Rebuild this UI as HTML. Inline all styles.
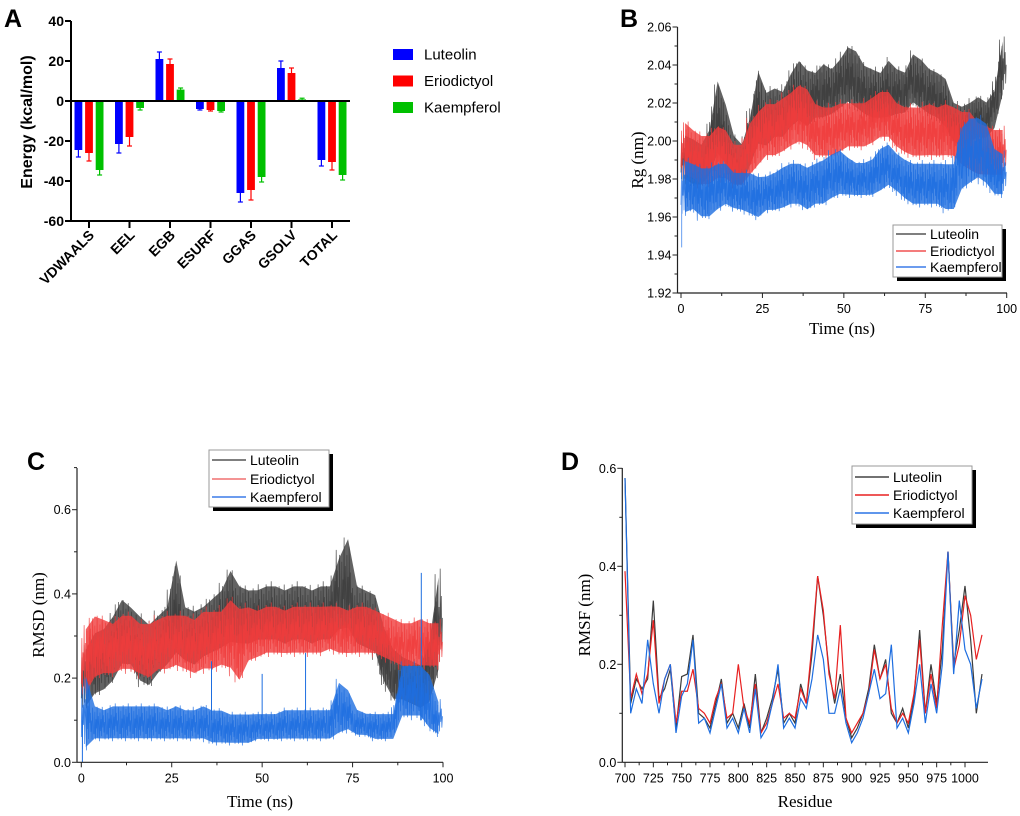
<!DOCTYPE html>
<html><head><meta charset="utf-8"><style>
html,body{margin:0;padding:0;background:#fff}
svg{display:block;font-family:"Liberation Sans",Arial,sans-serif}
.serif{font-family:"Liberation Serif","Times New Roman",serif}
</style></head><body>
<svg id="fig" width="1020" height="816" viewBox="0 0 1020 816" xmlns="http://www.w3.org/2000/svg">
<g id="pA"></g>
<g id="pB"></g>
<g id="pC"></g>
<g id="pD"></g>
</svg>
<script>
// ---------- Panel A data ----------
const aCategories = ["VDWAALS","EEL","EGB","ESURF","GGAS","GSOLV","TOTAL"];
const aSeriesNames = ["Luteolin","Eriodictyol","Kaempferol"];
const aLuteolin = [-24.5,-21.5,21,-4,-46,16.5,-29.5];
const aEriodictyol = [-26,-18,18.5,-4.5,-44.5,14,-30.5];
const aKaempferol = [-34.5,-3.5,5.7,-5,-38,0.8,-37];
const aErrLuteolin = [3.5,4.5,3.5,0.5,4.5,3.5,3];
const aErrEriodictyol = [4,4.5,2.5,0.5,5,2.5,4];
const aErrKaempferol = [2.5,1,0.8,0.5,2.5,0.6,2.5];
const aTicks = [40,20,0,-20,-40,-60];

// ---------- Panel B data (Rg envelopes, 40 bins of 2.5 ns) ----------
const bTicksY = [1.92,1.94,1.96,1.98,2.00,2.02,2.04,2.06];
const bTicksX = [0,25,50,75,100];
const bLutLo = [1.978,1.975,1.975,1.98,1.99,1.985,1.975,1.975,1.985,1.995,1.995,2.0,2.0,2.005,2.008,2.005,2.01,2.01,2.012,2.015,2.018,2.015,2.012,2.01,2.01,2.01,2.012,2.013,2.018,2.015,2.012,2.01,2.005,1.998,1.995,1.998,2.0,2.0,2.005,2.022];
const bLutHi = [2.005,2.003,2.0,2.008,2.035,2.022,2.005,2.0,2.015,2.04,2.028,2.03,2.028,2.038,2.045,2.04,2.038,2.043,2.04,2.045,2.052,2.05,2.042,2.04,2.038,2.045,2.04,2.038,2.048,2.045,2.04,2.038,2.035,2.022,2.02,2.022,2.025,2.022,2.028,2.055];
const bEriLo = [1.98,1.978,1.975,1.975,1.978,1.978,1.975,1.975,1.98,1.985,1.99,1.99,1.992,1.995,1.997,1.995,1.99,1.99,1.99,1.992,1.995,1.995,1.995,1.997,2.0,2.0,1.995,1.992,1.99,1.99,1.99,1.99,1.99,1.99,1.985,1.982,1.98,1.98,1.98,1.98];
const bEriHi = [2.012,2.008,2.005,2.005,2.01,2.008,2.0,2.0,2.012,2.018,2.022,2.022,2.025,2.028,2.032,2.03,2.022,2.02,2.02,2.022,2.022,2.022,2.022,2.025,2.028,2.028,2.022,2.02,2.02,2.02,2.022,2.02,2.022,2.02,2.018,2.018,2.012,2.01,2.008,2.008];
const bKaeLo = [1.96,1.962,1.958,1.958,1.962,1.965,1.963,1.962,1.96,1.958,1.962,1.962,1.963,1.965,1.965,1.962,1.965,1.965,1.968,1.97,1.97,1.97,1.97,1.97,1.972,1.975,1.972,1.968,1.965,1.965,1.965,1.965,1.962,1.962,1.972,1.975,1.978,1.975,1.97,1.97];
const bKaeHi = [1.992,1.99,1.988,1.988,1.99,1.99,1.985,1.985,1.985,1.983,1.983,1.985,1.988,1.99,1.99,1.988,1.99,1.992,1.995,1.997,1.993,1.99,1.99,1.992,1.998,2.0,1.995,1.992,1.99,1.99,1.99,1.99,1.99,1.99,2.01,2.015,2.015,2.012,1.998,1.995];
const bKaeSpikeT = [0.2];
const bKaeSpikeV = [1.944];

// ---------- Panel C data (RMSD envelopes) ----------
const cTicksY = [0.0,0.2,0.4,0.6];
const cTicksX = [0,25,50,75,100];
const cLutLo = [0.12,0.15,0.16,0.18,0.22,0.22,0.18,0.17,0.2,0.22,0.24,0.23,0.22,0.24,0.25,0.26,0.27,0.27,0.27,0.28,0.28,0.28,0.27,0.28,0.28,0.27,0.28,0.28,0.3,0.3,0.27,0.26,0.25,0.18,0.14,0.14,0.13,0.12,0.13,0.2];
const cLutHi = [0.28,0.32,0.33,0.36,0.4,0.38,0.36,0.34,0.36,0.38,0.5,0.38,0.37,0.38,0.4,0.42,0.47,0.43,0.42,0.42,0.43,0.43,0.42,0.43,0.43,0.42,0.43,0.43,0.5,0.55,0.43,0.42,0.41,0.33,0.28,0.26,0.25,0.24,0.3,0.46];
const cEriLo = [0.15,0.19,0.2,0.2,0.21,0.21,0.2,0.19,0.21,0.21,0.22,0.21,0.2,0.21,0.21,0.22,0.21,0.18,0.23,0.24,0.25,0.25,0.25,0.25,0.25,0.25,0.25,0.26,0.25,0.25,0.25,0.25,0.25,0.24,0.23,0.22,0.22,0.22,0.22,0.22];
const cEriHi = [0.33,0.36,0.35,0.34,0.36,0.36,0.34,0.34,0.35,0.36,0.36,0.36,0.35,0.37,0.37,0.37,0.4,0.38,0.38,0.37,0.38,0.38,0.37,0.38,0.38,0.38,0.38,0.38,0.38,0.37,0.38,0.38,0.37,0.36,0.35,0.34,0.34,0.35,0.34,0.34];
const cKaeLo = [0.02,0.05,0.05,0.05,0.05,0.05,0.05,0.05,0.05,0.05,0.05,0.05,0.05,0.05,0.04,0.04,0.04,0.04,0.04,0.05,0.05,0.05,0.05,0.05,0.05,0.05,0.05,0.05,0.06,0.07,0.06,0.06,0.05,0.05,0.05,0.1,0.1,0.1,0.07,0.06];
const cKaeHi = [0.22,0.14,0.13,0.14,0.14,0.14,0.14,0.14,0.14,0.13,0.14,0.13,0.13,0.14,0.13,0.13,0.12,0.12,0.12,0.12,0.12,0.12,0.13,0.13,0.13,0.13,0.13,0.13,0.2,0.18,0.13,0.12,0.12,0.12,0.12,0.24,0.24,0.24,0.22,0.15];
const cKaeSpikeT = [0.3,36,50,62,94];
const cKaeSpikeV = [0.0,0.24,0.21,0.26,0.45];

// ---------- Panel D data (RMSF per residue) ----------
const dResidues = [700,705,710,715,720,725,730,735,740,745,750,755,760,765,770,775,780,785,790,795,800,805,810,815,820,825,830,835,840,845,850,855,860,865,870,875,880,885,890,895,900,905,910,915,920,925,930,935,940,945,950,955,960,965,970,975,980,985,990,995,1000,1005,1010,1015];
const dLuteolin = [0.58,0.12,0.17,0.15,0.17,0.33,0.13,0.15,0.19,0.07,0.175,0.18,0.26,0.1,0.09,0.07,0.12,0.17,0.08,0.1,0.07,0.12,0.07,0.18,0.06,0.09,0.13,0.19,0.08,0.1,0.08,0.16,0.12,0.22,0.38,0.3,0.19,0.12,0.18,0.09,0.05,0.07,0.1,0.15,0.24,0.17,0.21,0.1,0.08,0.11,0.07,0.13,0.27,0.1,0.2,0.12,0.23,0.43,0.2,0.27,0.36,0.25,0.1,0.18];
const dEriodictyol = [0.39,0.13,0.18,0.14,0.18,0.29,0.12,0.17,0.2,0.08,0.145,0.145,0.19,0.11,0.1,0.08,0.13,0.16,0.09,0.1,0.2,0.11,0.08,0.16,0.06,0.08,0.12,0.16,0.09,0.1,0.09,0.15,0.12,0.24,0.38,0.31,0.18,0.13,0.28,0.09,0.06,0.08,0.1,0.14,0.23,0.17,0.2,0.11,0.08,0.1,0.08,0.14,0.25,0.1,0.18,0.11,0.28,0.43,0.19,0.24,0.34,0.3,0.21,0.26];
const dKaempferol = [0.58,0.1,0.15,0.12,0.25,0.16,0.1,0.17,0.2,0.06,0.135,0.16,0.25,0.08,0.09,0.06,0.11,0.16,0.07,0.09,0.06,0.11,0.06,0.15,0.05,0.07,0.12,0.2,0.07,0.09,0.07,0.13,0.11,0.17,0.26,0.21,0.1,0.1,0.15,0.08,0.04,0.06,0.09,0.14,0.19,0.13,0.14,0.24,0.07,0.09,0.06,0.12,0.2,0.08,0.16,0.1,0.2,0.43,0.18,0.33,0.23,0.2,0.11,0.17];
const dTicksY = [0.0,0.2,0.4,0.6];
const dTicksX = [700,725,750,775,800,825,850,875,900,925,950,975,1000];

const NS = "http://www.w3.org/2000/svg";
function mk(parent, tag, attrs, text){
  const e = document.createElementNS(NS, tag);
  for (const k in attrs) e.setAttribute(k, attrs[k]);
  if (text !== undefined) e.textContent = text;
  parent.appendChild(e);
  return e;
}

// ================= Panel A =================
(function(){
  const g = document.getElementById('pA');
  const ax = 71, x1 = 350;
  const ya = v => 101 - v * 2.0;
  const xc = i => 89 + i * 40.5;
  const cols = ["#0000ff","#ff0000","#00c000"];
  const vals = [aLuteolin, aEriodictyol, aKaempferol];
  const errs = [aErrLuteolin, aErrEriodictyol, aErrKaempferol];
  const lab = mk(g,'text',{x:4,y:27,'font-size':25,'font-weight':'bold'},'A');
   
  const yt = mk(g,'text',{x:0,y:0,'font-size':16,'font-weight':'bold','text-anchor':'middle',transform:'translate(32,122) rotate(-90)'},'Energy (kcal/mol)');
   
  for (const t of aTicks){
    mk(g,'line',{x1:ax-6,x2:ax,y1:ya(t),y2:ya(t),stroke:'#000','stroke-width':2});
    const tl = mk(g,'text',{x:ax-7,y:ya(t)+5,'font-size':14,'font-weight':'bold','text-anchor':'end'},String(t));
     
  }
  aCategories.forEach((c,i)=>{
    vals.forEach((s,j)=>{
      const v = s[i], x = xc(i) + (j-1)*10.6;
      const b = mk(g,'rect',{x:x-3.9,y:Math.min(ya(v),ya(0)),width:7.8,height:Math.abs(ya(v)-ya(0)),fill:cols[j]});
       
      const e = v + (v<0?-1:1)*errs[j][i];
      mk(g,'line',{x1:x,x2:x,y1:ya(v),y2:ya(e),stroke:cols[j],'stroke-width':1.2});
      mk(g,'line',{x1:x-2.5,x2:x+2.5,y1:ya(e),y2:ya(e),stroke:cols[j],'stroke-width':1.2});
    });
    mk(g,'line',{x1:xc(i),x2:xc(i),y1:221,y2:228,stroke:'#000','stroke-width':2});
    const xl = mk(g,'text',{x:0,y:0,'font-size':14,'font-weight':'bold','text-anchor':'end',transform:`translate(${xc(i)+6},${236}) rotate(-45)`},c);
     
  });
  mk(g,'line',{x1:ax,x2:ax,y1:21,y2:222,stroke:'#000','stroke-width':2});
  mk(g,'line',{x1:ax-1,x2:x1,y1:221,y2:221,stroke:'#000','stroke-width':2});
  mk(g,'line',{x1:ax,x2:x1,y1:ya(0),y2:ya(0),stroke:'#000','stroke-width':2});
  aSeriesNames.forEach((n,j)=>{
    const y = 54 + j*26.5;
    const r = mk(g,'rect',{x:393,y:y-5,width:20,height:11,fill:cols[j]});
     
    const t = mk(g,'text',{x:424,y:y+5.5,'font-size':15},n);
     
  });
})();

// ========== generic MD axes & band helpers ==========
const pattern = [0.2,0.8,0.05,0.6,0.35,0.95,0.1,0.7,0.45,0.0,0.85,0.3,0.65,0.15,1.0,0.4,0.75,0.25,0.55,0.05,0.9,0.5,0.2];
function band(g, lo, hi, tmax, xs, ys, color, name, sub){
  const n = lo.length, w = tmax/n;
  let top = [], bot = [];
  for (let i=0;i<n;i++){ const t=(i+0.5)*w; top.push(xs(t)+','+ys(hi[i]-(hi[i]-lo[i])*0.08)); bot.unshift(xs(t)+','+ys(lo[i]+(hi[i]-lo[i])*0.08)); }
  const poly = mk(g,'polygon',{points:top.concat(bot).join(' '),fill:color,'fill-opacity':0.8});
   
  let pts = [], k = 0;
  for (let i=0;i<n;i++){
    for (let s=0;s<sub;s++){
      const f = s/sub, t = (i+f)*w;
      const j2 = Math.min(n-1, i+1);
      const l = lo[i]+(lo[j2]-lo[i])*f*0.5, h = hi[i]+(hi[j2]-hi[i])*f*0.5;
      const p = pattern[k++ % pattern.length];
      pts.push(xs(t).toFixed(2)+','+ys(l+p*(h-l)).toFixed(2));
    }
  }
  const pl = mk(g,'polyline',{points:pts.join(' '),fill:'none',stroke:color,'stroke-width':0.7,'stroke-opacity':0.9});
   
}
function axes(g, o){
  mk(g,'line',{x1:o.x0,x2:o.x0,y1:o.yTop,y2:o.yBot,stroke:'#222','stroke-width':1.2});
  mk(g,'line',{x1:o.x0,x2:o.xEnd,y1:o.yBot,y2:o.yBot,stroke:'#222','stroke-width':1.2});
  o.ticksY.forEach((t,i)=>{
    const y=o.ys(t);
    mk(g,'line',{x1:o.x0-5,x2:o.x0,y1:y,y2:y,stroke:'#222','stroke-width':1});
    if (i<o.ticksY.length-1){ const ym=o.ys(t+(o.ticksY[1]-o.ticksY[0])/2); mk(g,'line',{x1:o.x0-3,x2:o.x0,y1:ym,y2:ym,stroke:'#222','stroke-width':1}); }
    const tl=mk(g,'text',{x:o.x0-6,y:y+4.5,'font-size':12.5,'text-anchor':'end'},t.toFixed(o.yDec));
     
  });
  if (o.yMinorTop!==undefined){ const ym=o.ys(o.yMinorTop); mk(g,'line',{x1:o.x0-3,x2:o.x0,y1:ym,y2:ym,stroke:'#222'}); }
  o.ticksX.forEach((t,i)=>{
    const x=o.xs(t);
    mk(g,'line',{x1:x,x2:x,y1:o.yBot,y2:o.yBot+5,stroke:'#222','stroke-width':1});
    if (i<o.ticksX.length-1){ const xm=o.xs(t+(o.ticksX[1]-o.ticksX[0])/2); mk(g,'line',{x1:xm,x2:xm,y1:o.yBot,y2:o.yBot+3,stroke:'#222'}); }
    const tl=mk(g,'text',{x:x,y:o.yBot+20,'font-size':12.5,'text-anchor':'middle'},String(t));
     
  });
  const xt=mk(g,'text',{x:o.xtX,y:o.xtY,'font-size':17,'text-anchor':'middle',class:'serif'},o.xTitle);
   
  const yt=mk(g,'text',{x:0,y:0,'font-size':17,'text-anchor':'middle',class:'serif',transform:`translate(${o.ytX},${o.ytY}) rotate(-90)`},o.yTitle);
   
  const pl=mk(g,'text',{x:o.lblX,y:o.lblY,'font-size':25,'font-weight':'bold'},o.label);
   
}
function legend(g, x, y, w, h, rows, cols, rowY, lw){
  mk(g,'rect',{x:x+4,y:y+4,width:w,height:h,fill:'#000'});
  const box=mk(g,'rect',{x:x,y:y,width:w,height:h,fill:'#fff',stroke:'#999','stroke-width':1});
   
  rows.forEach((n,i)=>{
    const yy=rowY[i];
    mk(g,'line',{x1:x+3,x2:x+3+lw,y1:yy,y2:yy,stroke:cols[i],'stroke-width':1.5});
    const t=mk(g,'text',{x:x+lw+7,y:yy+5,'font-size':14},n);
     
  });
}
const cBlack='#3c3c3c', cRed='#f03c3c', cBlue='#1e6ee0';
const names=["Luteolin","Eriodictyol","Kaempferol"];

// ================= Panel B =================
(function(){
  const g=document.getElementById('pB');
  const xs=t=>681+t*3.257, ys=v=>293-(v-1.92)*1900;
  band(g,bLutLo,bLutHi,100,xs,ys,cBlack,'luteolin',16);
  band(g,bEriLo,bEriHi,100,xs,ys,cRed,'eriodictyol',16);
  band(g,bKaeLo,bKaeHi,100,xs,ys,cBlue,'kaempferol',16);
  bKaeSpikeT.forEach((t,i)=>{ mk(g,'line',{x1:xs(t),x2:xs(t),y1:ys(1.98),y2:ys(bKaeSpikeV[i]),stroke:'#6aa0f0','stroke-width':1}); });
  axes(g,{x0:677.5,xEnd:1007,yTop:27,yBot:293,xs,ys,ticksY:bTicksY,ticksX:bTicksX,yDec:2,
    xTitle:'Time (ns)',xtX:842,xtY:334,yTitle:'Rg (nm)',ytX:643,ytY:160,label:'B',lblX:620,lblY:27});
  legend(g,893,225,109,52,names,['#555','#f05050','#3c7ce8'],[234,251,267],30);
})();

// ================= Panel C =================
(function(){
  const g=document.getElementById('pC');
  const xs=t=>81.3+t*3.617, ys=v=>762.3-v*421;
  band(g,cLutLo,cLutHi,100,xs,ys,cBlack,'luteolin',16);
  band(g,cEriLo,cEriHi,100,xs,ys,cRed,'eriodictyol',16);
  band(g,cKaeLo,cKaeHi,100,xs,ys,cBlue,'kaempferol',16);
  cKaeSpikeT.forEach((t,i)=>{ mk(g,'line',{x1:xs(t),x2:xs(t),y1:ys(0.1),y2:ys(cKaeSpikeV[i]),stroke:cBlue,'stroke-width':1}); });
  axes(g,{x0:77,xEnd:443,yTop:468,yBot:762.3,xs,ys,ticksY:cTicksY,ticksX:cTicksX,yDec:1,yMinorTop:0.7,
    xTitle:'Time (ns)',xtX:260,xtY:807,yTitle:'RMSD (nm)',ytX:44,ytY:615,label:'C',lblX:27,lblY:470});
  legend(g,209,450,120,57,names,['#555','#f07070','#3c7ce8'],[460,479,497],34);
})();

// ================= Panel D =================
(function(){
  const g=document.getElementById('pD');
  const xs=r=>625+(r-700)*1.1333, ys=v=>762.3-v*490;
  [[dLuteolin,cBlack,'luteolin'],[dEriodictyol,'#e82020','eriodictyol'],[dKaempferol,cBlue,'kaempferol']].forEach(([s,c,n])=>{
    const pts=dResidues.map((r,i)=>xs(r).toFixed(2)+','+ys(s[i]).toFixed(2)).join(' ');
    const pl=mk(g,'polyline',{points:pts,fill:'none',stroke:c,'stroke-width':1.2});
     
  });
  axes(g,{x0:622.3,xEnd:988,yTop:468,yBot:762.3,xs,ys,ticksY:dTicksY,ticksX:dTicksX,yDec:1,
    xTitle:'Residue',xtX:805,xtY:807,yTitle:'RMSF (nm)',ytX:590,ytY:615,label:'D',lblX:561,lblY:470});
  legend(g,852,466,120,58,names,['#444','#e82020','#2a74e6'],[477,495,513],34);
})();
</script>
</body></html>
